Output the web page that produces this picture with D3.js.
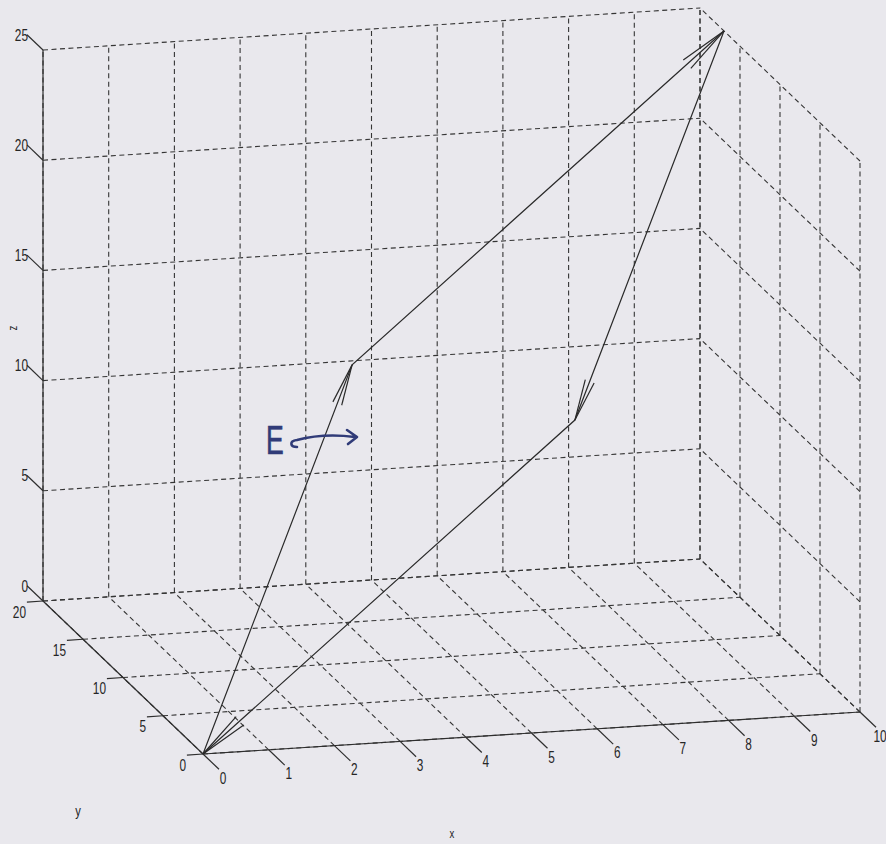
<!DOCTYPE html>
<html>
<head>
<meta charset="utf-8">
<script src="https://cdn.jsdelivr.net/npm/d3@7"></script>
<style>
  html, body { margin: 0; padding: 0; background: #e9e8ed; }
  svg { display: block; }
  text { font-family: "Liberation Sans", Arial, sans-serif; fill: #262626; }
</style>
</head>
<body>
<svg id="chart" width="886" height="844"></svg>
<script>
// Tick values on each axis
const xTicks = [0, 1, 2, 3, 4, 5, 6, 7, 8, 9, 10];
const yTicks = [0, 5, 10, 15, 20];
const zTicks = [0, 5, 10, 15, 20, 25];

// Closed vector path O -> u -> u+v -> v -> O
const pathX = [0, 3, 10, 7, 0];
const pathY = [0, 6, 17, 11, 0];
const pathZ = [0, 15, 25, 10, 0];

const svg = d3.select("#chart");

// Axis scales (data -> fraction of axis length)
const xS = d3.scaleLinear().domain([0, 10]).range([0, 1]);
const yS = d3.scaleLinear().domain([0, 20]).range([0, 1]);
const zS = d3.scaleLinear().domain([0, 25]).range([0, 1]);

// Screen-space origin and full-length axis vectors of the 3-D view
const origin = [203, 754];
const AX = [657, -42], AY = [-160, -153], AZ = [0, -551];

function proj(x, y, z) {
  const a = xS(x), b = yS(y), c = zS(z);
  return [origin[0] + a * AX[0] + b * AY[0] + c * AZ[0],
          origin[1] + a * AX[1] + b * AY[1] + c * AZ[1]];
}

const line = d3.line();
const gridStyle = g => g.attr("fill", "none").attr("stroke", "#353535")
  .attr("stroke-width", 1.1).attr("stroke-dasharray", "5,3.5");

// Grid segments on floor (z=0), back wall (y=20) and side wall (x=10)
const gridSegs = [];
xTicks.forEach(x => gridSegs.push([[x, 0, 0], [x, 20, 0]]));
yTicks.forEach(y => gridSegs.push([[0, y, 0], [10, y, 0]]));
xTicks.forEach(x => gridSegs.push([[x, 20, 0], [x, 20, 25]]));
zTicks.forEach(z => gridSegs.push([[0, 20, z], [10, 20, z]]));
yTicks.forEach(y => gridSegs.push([[10, y, 0], [10, y, 25]]));
zTicks.forEach(z => gridSegs.push([[10, 0, z], [10, 20, z]]));

svg.append("g").call(gridStyle)
  .selectAll("path").data(gridSegs).join("path")
  .attr("d", s => line(s.map(p => proj(...p))));

// Solid axis lines and tick marks
const axisG = svg.append("g").attr("stroke", "#2e2e2e").attr("stroke-width", 1.2).attr("fill", "none");
const axisSegs = [
  [[0, 0, 0], [10, 0, 0]],
  [[0, 0, 0], [0, 20, 0]],
  [[0, 20, 0], [0, 20, 25]]
];
xTicks.forEach(x => axisSegs.push([[x, 0, 0], [x, -2, 0]]));
yTicks.forEach(y => axisSegs.push([[0, y, 0], [-0.245, y, 0]]));
zTicks.forEach(z => axisSegs.push([[0, 20, z], [0, 22, z]]));
axisG.selectAll("path").data(axisSegs).join("path")
  .attr("d", s => line(s.map(p => proj(...p))));

// Tick labels, drawn in a condensed face
function tickLabels(cls, data, pos, anchor) {
  svg.append("g").selectAll("g." + cls).data(data).join("g").attr("class", cls)
    .attr("transform", d => { const p = pos(d); return `translate(${p[0]},${p[1]}) scale(0.74,1)`; })
    .append("text")
    .attr("font-size", 16)
    .attr("text-anchor", anchor).attr("dominant-baseline", "central")
    .text(d => d);
}
tickLabels("xl", xTicks, d => { const p = proj(d, 0, 0); return [p[0] + 20, p[1] + 24]; }, "middle");
tickLabels("yl", yTicks, d => { const p = proj(0, d, 0); return [p[0] - 17, p[1] + 11]; }, "end");
tickLabels("zl", zTicks, d => { const p = proj(0, 20, d); return [p[0] - 15, p[1] - 15]; }, "end");

// Axis titles
svg.append("text").attr("transform", "translate(452,838) scale(0.8,1)").attr("font-size", 12)
  .attr("text-anchor", "middle").text("x");
svg.append("text").attr("transform", "translate(78,816) scale(0.8,1)").attr("font-size", 14)
  .attr("text-anchor", "middle").text("y");
svg.append("text").attr("transform", "translate(17,328) rotate(-90) scale(0.8,1)").attr("font-size", 12)
  .attr("text-anchor", "middle").text("z");

// Vectors with arrow barbs at each tip
const pts = pathX.map((x, i) => proj(x, pathY[i], pathZ[i]));
const vg = svg.append("g").attr("stroke", "#2a2a2a").attr("stroke-width", 1.2).attr("fill", "none");
vg.append("path").attr("d", line(pts));
const barbAngle = 6.5 * Math.PI / 180;
const barbs = [];
for (let i = 0; i < pts.length - 1; i++) {
  const p = pts[i], q = pts[i + 1];
  const dx = p[0] - q[0], dy = p[1] - q[1];
  const len = Math.hypot(dx, dy), L = 0.1 * len;
  const ang = Math.atan2(dy, dx);
  [-barbAngle, barbAngle].forEach(da => {
    barbs.push([q, [q[0] + L * Math.cos(ang + da), q[1] + L * Math.sin(ang + da)]]);
  });
}
vg.selectAll(".barb").data(barbs).join("path").attr("class", "barb").attr("d", d => line(d));

// Hand-written note pointing at the first vector
const ink = "#303b78";
svg.append("text").attr("transform", "translate(266,454) scale(0.7,1.08)").attr("font-size", 38)
  .style("fill", ink).style("stroke", ink).style("stroke-width", 0.6).text("E");
svg.append("path")
  .attr("d", "M297,447 C290,447 289,441 297,440 C312,436 332,434 355,437 M347,430 L357,437 L348,444")
  .attr("fill", "none").attr("stroke", ink).attr("stroke-width", 2.6)
  .attr("stroke-linecap", "round").attr("stroke-linejoin", "round");
</script>
</body>
</html>
